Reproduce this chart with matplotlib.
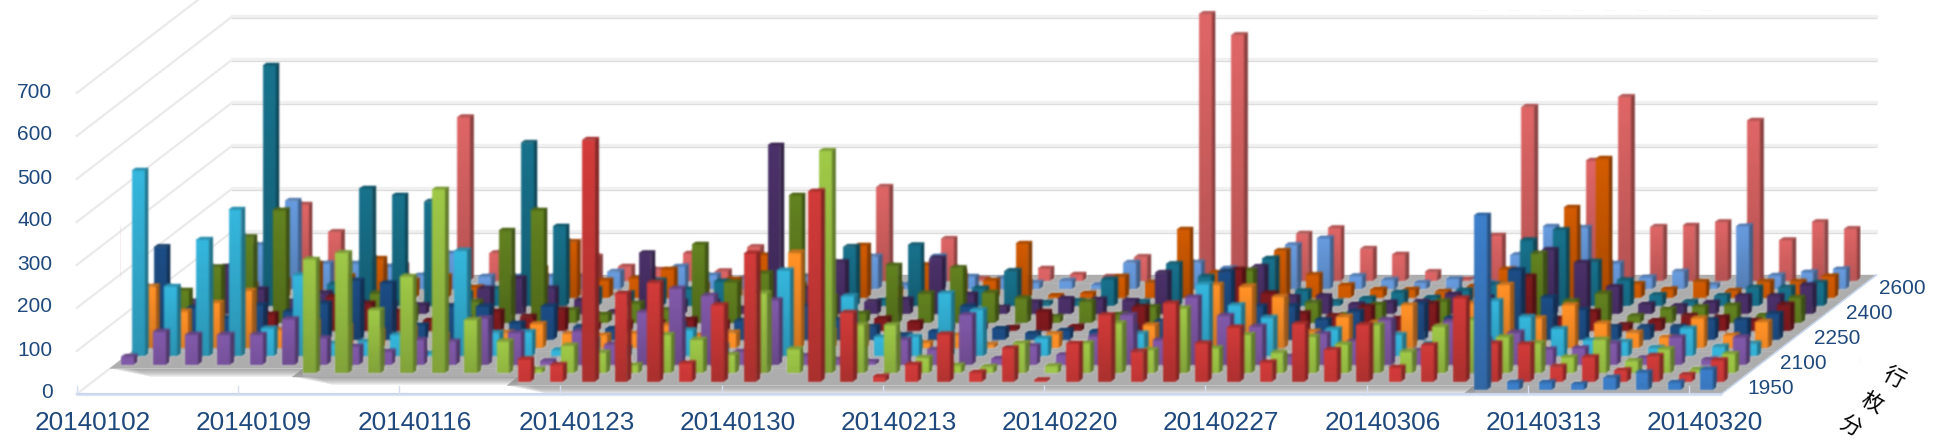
import numpy as np
import matplotlib
matplotlib.use("Agg")
import matplotlib.pyplot as plt
from matplotlib.collections import PolyCollection
from matplotlib.colors import to_rgb

N = None

# values per series, front row to back row, one entry per date (None = no cell)
blue = [N] * 43 + [407, 18, 18, 14, 29, 41, 18, 48]
red = [N] * 13 + [52, 39, 563, 205, 230, 43, 178, 298, 0, 443, 160, 12, 40, 110, 22, 78, 4, 89, 155, 70,
                  182, 89, 126, 45, 134, 74, 132, 33, 85, 194, 89, 87, 35, 57, 27, 60, 16, 50]
green = [N] * 6 + [265, 280, 147, 225, 428, 124, 74, 9, 64, 48, 19, 89, 78, 43, 186, 56, 518, 112, 112, 36,
                   18, 15, 70, 17, 70, 116, 54, 151, 58, 89, 48, 85, 67, 112, 50, 108, 124, 84, 70, 37, 78,
                   29, 56, 9, 45]
purple = [19, 77, 70, 70, 70, 106, 62, 43, 31, 58, 54, 108, 74, 9, 78, 47, 122, 177, 161, 31, 150, 21, 12, 8,
          58, 35, 116, 15, 44, 23, 66, 116, 57, 157, 114, 89, 19, 72, 54, 105, 33, 101, 60, 75, 36, 39, 50,
          16, 64, 12, 64]
cyan = [433, 163, 272, 342, 65, 189, 30, 34, 50, 7, 246, 55, 57, 15, 40, 20, 30, 61, 25, 20, 200, 30, 140, 45,
        46, 147, 108, 20, 42, 20, 30, 53, 40, 168, 119, 90, 25, 63, 30, 50, 30, 60, 129, 92, 64, 38, 34, 20,
        65, 23, 30]
orange = [143, 85, 105, 133, 42, 60, 50, 40, 45, 30, 40, 36, 56, 33, 30, 34, 53, 30, 36, 20, 222, 40, 50, 12,
          12, 30, 8, 10, 33, 10, 30, 53, 40, 147, 143, 119, 38, 73, 59, 100, 50, 104, 147, 69, 100, 57, 36,
          25, 69, 30, 61]
navy = [216, 73, 50, 80, 65, 84, 137, 131, 34, 77, 77, 38, 77, 30, 26, 30, 35, 30, 44, 30, 77, 46, 30, 11, 19,
        77, 26, 15, 22, 20, 30, 42, 50, 158, 77, 77, 46, 65, 40, 83, 50, 60, 162, 98, 69, 30, 30, 30, 46, 46,
        60]
dark_red = [30, 30, 30, 40, 30, 80, 64, 46, 26, 30, 46, 34, 50, 15, 20, 20, 28, 20, 20, 15, 20, 15, 30, 21, 10,
            15, 9, 46, 11, 10, 57, 40, 35, 143, 88, 42, 36, 57, 30, 64, 30, 50, 127, 30, 46, 15, 25, 36, 33,
            25, 62]
dark_green = [76, 130, 200, 262, 30, 50, 68, 35, 30, 49, 215, 262, 30, 20, 45, 30, 183, 94, 115, 297, 60, 22,
              134, 68, 128, 70, 57, 14, 49, 20, 37, 30, 30, 122, 50, 47, 19, 43, 30, 50, 30, 60, 161, 50, 68,
              16, 32, 37, 41, 18, 58]
dark_purple = [30, 112, 58, 30, 50, 30, 25, 22, 20, 60, 84, 60, 33, 6, 143, 30, 30, 14, 394, 60, 122, 30, 35,
               130, 47, 16, 29, 37, 35, 33, 97, 30, 30, 111, 41, 43, 24, 28, 30, 47, 40, 60, 150, 120, 64, 24,
               20, 28, 43, 43, 68]
teal = [40, 60, 560, 60, 50, 274, 258, 243, 30, 40, 380, 186, 40, 30, 59, 39, 57, 30, 40, 30, 138, 14, 142, 30,
        41, 82, 8, 12, 62, 10, 98, 68, 30, 111, 35, 10, 18, 32, 20, 37, 50, 153, 177, 103, 60, 26, 10, 24, 43,
        43, 54]
dark_orange = [30, 30, 40, 80, 50, 91, 40, 50, 24, 30, 68, 130, 40, 45, 66, 30, 43, 99, 30, 30, 122, 20, 76,
               60, 40, 126, 5, 10, 49, 35, 159, 58, 30, 109, 53, 29, 19, 19, 14, 27, 66, 40, 210, 324, 32, 20,
               37, 16, 37, 37, 50]
light_blue = [30, 103, 206, 60, 60, 53, 33, 84, 30, 30, 30, 30, 41, 20, 53, 33, 25, 20, 30, 20, 76, 10, 77, 30,
              25, 15, 20, 10, 62, 20, 62, 49, 30, 103, 119, 31, 22, 15, 24, 15, 80, 146, 143, 60, 28, 41, 10,
              147, 32, 40, 47]
salmon = [30, 50, 178, 114, 40, 36, 40, 381, 65, 30, 30, 57, 34, 26, 64, 23, 79, 20, 30, 30, 219, 30, 98, 5,
          20, 29, 15, 10, 56, 3, 621, 572, 30, 110, 123, 75, 62, 21, 4, 106, 405, 40, 280, 428, 126, 129, 137,
          373, 95, 137, 121]

series = [blue, red, green, purple, cyan, orange, navy, dark_red, dark_green, dark_purple, teal, dark_orange,
          light_blue, salmon]
colors = ["#3B7DC8", "#CF3A38", "#9DC646", "#8058A8", "#34B4DA", "#FF9026", "#1C4C84", "#801A1E", "#61801F",
          "#4A3068", "#17708A", "#D05A00", "#6699DC", "#DC6464"]

date_labels = ["20140102", "20140109", "20140116", "20140123", "20140130", "20140213", "20140220", "20140227",
               "20140306", "20140313", "20140320"]
value_ticks = [0, 100, 200, 300, 400, 500, 600, 700]
row_labels = ["1950", "2100", "2250", "2400", "2600"]
title_chars = ["分", "枚", "行"]

LABEL_COLOR = "#1F497D"
LABEL_FONT = "Liberation Sans"

# oblique projection, everything below is in picture pixels
COL_W = 32.25
ROW_X = 11.07
ROW_Y = 8.5
FLOOR_X = 76.7
FLOOR_Y = 394
PX_PER_VALUE = 0.43
BAR_W = 12.8
SIDE_X = 4.0
SIDE_Y = 2.8
n_cols = len(salmon)
n_rows = len(series)


def floor_point(col, row):
    return FLOOR_X + col * COL_W + row * ROW_X, FLOOR_Y - row * ROW_Y


def shade(color, factor):
    rgb = np.array(to_rgb(color)) * factor
    return tuple(np.clip(rgb, 0, 1))


# the original is a soft, upscaled picture, so take the sharp edge off the bars
def soften(image, dpi):
    out = image.copy()
    for axis in (0, 1):
        out = (np.roll(out, 1, axis) + 2 * out + np.roll(out, -1, axis)) / 4
    return out, 0, 0


fig = plt.figure(figsize=(19.35, 4.47), dpi=100)
ax = fig.add_axes([0, 0, 1, 1])
ax.set_xlim(0, 1935)
ax.set_ylim(447, 0)
ax.axis("off")

# walls
back_x, back_y = floor_point(0, n_rows)
right_x, _ = floor_point(n_cols, n_rows)
for v in value_ticks:
    h = v * PX_PER_VALUE
    ax.plot([FLOOR_X, back_x], [FLOOR_Y - h, back_y - h], color="#EAEAEA", lw=1.6, zorder=1)
    if v > 0:
        ax.plot([back_x, right_x], [back_y - h - 1, back_y - h - 1], color="#F1F1F1", lw=2.4, zorder=1)
        ax.plot([back_x, right_x], [back_y - h + 1, back_y - h + 1], color="#DEDEDE", lw=1.0, zorder=1)

# the floor only exists where a series has cells, so it steps at the front
starts = [next(i for i, v in enumerate(s) if v is not None) for s in series]
for r in range(n_rows):
    x0, y0 = floor_point(starts[r], r)
    x1, y1 = floor_point(n_cols, r)
    x2, y2 = floor_point(n_cols, r + 1)
    x3, y3 = floor_point(starts[r], r + 1)
    ax.fill([x0, x1, x2, x3], [y0, y1, y2, y3], color="#ADADAD", lw=0.3, zorder=2)

# soft shadow below each step of the floor, the front row has none
for r in range(1, 4):
    end = starts[r - 1]
    if starts[r] >= end:
        continue
    x0, y0 = floor_point(starts[r], r)
    x1, _ = floor_point(end, r)
    for k in range(1, 9):
        ax.fill([x0 + k * 3, x1, x1, x0 + k * 5], [y0, y0, y0 + k, y0 + k], color="#808080", alpha=0.12, lw=0,
                zorder=2)

# bottom axis line and ticks
ax.plot([FLOOR_X, floor_point(n_cols, 0)[0]], [FLOOR_Y, FLOOR_Y], color="#C9D7EC", lw=1.6, zorder=3)
ax.plot([FLOOR_X, floor_point(n_cols, 0)[0]], [FLOOR_Y + 1, FLOOR_Y + 1], color="#DCE6F4", lw=1.0, zorder=3)
ax.plot([floor_point(n_cols, 0)[0], right_x], [FLOOR_Y, back_y], color="#C9D7EC", lw=1.2, zorder=3)
for i in range(len(date_labels)):
    tx = FLOOR_X + i * 5 * COL_W
    ax.plot([tx, tx], [FLOOR_Y, FLOOR_Y - 8], color="#D3DFF0", lw=1.0, zorder=3)

# bars, back row first so nearer rows cover them
polys = []
face_colors = []
for r in range(n_rows - 1, -1, -1):
    base_color = colors[r]
    for c in range(n_cols):
        v = series[r][c]
        if v is None or v <= 0:
            continue
        x = 87.5 + c * COL_W + r * ROW_X
        base = 390 - r * 8.4
        top = base - v * PX_PER_VALUE
        # side
        polys.append([(x + BAR_W, top), (x + BAR_W + SIDE_X, top - SIDE_Y),
                      (x + BAR_W + SIDE_X, base - SIDE_Y), (x + BAR_W, base)])
        face_colors.append(shade(base_color, 0.62))
        # front, shaded from top to bottom
        steps = max(1, int((base - top) / 5))
        edges = np.linspace(top, base, steps + 1)
        for k in range(steps):
            f = 1.02 - 0.2 * (k + 0.5) / steps * min(1.0, (base - top) / 60)
            polys.append([(x, edges[k]), (x + BAR_W, edges[k]), (x + BAR_W, edges[k + 1]), (x, edges[k + 1])])
            face_colors.append(shade(base_color, f))
        # top
        polys.append([(x, top), (x + BAR_W, top), (x + BAR_W + SIDE_X, top - SIDE_Y), (x + SIDE_X, top - SIDE_Y)])
        face_colors.append(shade(base_color, 0.8))

bars = PolyCollection(polys, facecolors=face_colors, edgecolors=face_colors, linewidths=0.25, zorder=5)
bars.set_agg_filter(soften)
ax.add_collection(bars)

# labels
for v in value_ticks:
    ax.text(52.5, 393 - v * PX_PER_VALUE, str(v), ha="right", va="center", fontsize=15, color=LABEL_COLOR,
            family=LABEL_FONT)
for i, label in enumerate(date_labels):
    ax.text(92.5 + i * 5 * COL_W, 423, label, ha="center", va="center", fontsize=18.8, color=LABEL_COLOR,
            family=LABEL_FONT)
for i, label in enumerate(row_labels):
    ax.text(1770.7 + i * 33, 388 - i * 24.8, label, ha="center", va="center", fontsize=15, color=LABEL_COLOR,
            family=LABEL_FONT)
for i, ch in enumerate(title_chars):
    ax.text(1849 + i * 22.5, 427 - i * 24.5, ch, ha="center", va="center", fontsize=15.5, color="black",
            rotation=-28, family="Noto Sans CJK SC")

fig.savefig("out.png", dpi=100, facecolor="white")
